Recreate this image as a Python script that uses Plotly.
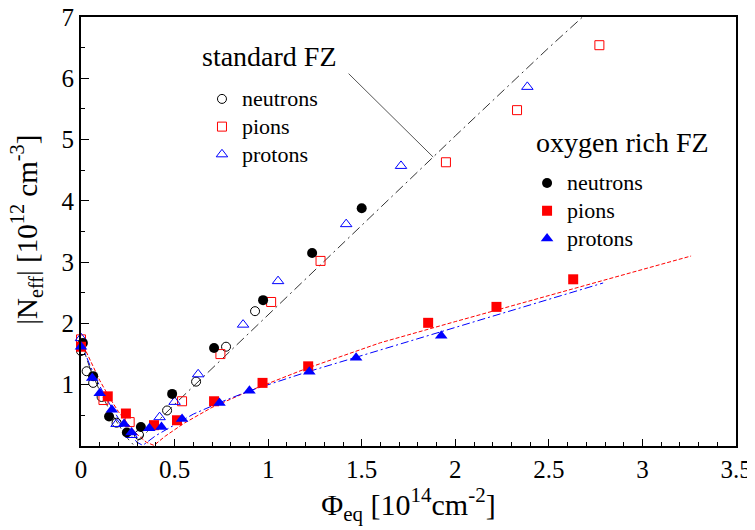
import plotly.graph_objects as go

# ---------------- data ----------------
# standard FZ (open symbols)
std_neutrons_x = [0.0, 0.03, 0.065, 0.11, 0.19, 0.31, 0.46, 0.615, 0.775, 0.93]
std_neutrons_y = [1.55, 1.22, 1.03, 0.80, 0.38, 0.18, 0.58, 1.05, 1.62, 2.20]

std_pions_x = [0.0, 0.12, 0.26, 0.54, 0.745, 1.016, 1.28, 1.95, 2.33, 2.77]
std_pions_y = [1.74, 0.75, 0.39, 0.73, 1.50, 2.35, 3.02, 4.63, 5.48, 6.54]

std_protons_x = [0.0, 0.19, 0.27, 0.42, 0.50, 0.626, 0.866, 1.053, 1.417, 1.71, 2.385]
std_protons_y = [1.76, 0.36, 0.18, 0.47, 0.72, 1.17, 1.98, 2.69, 3.62, 4.57, 5.86]

# oxygen rich FZ (filled symbols)
oxy_neutrons_x = [0.01, 0.065, 0.15, 0.245, 0.32, 0.487, 0.711, 0.973, 1.235, 1.50]
oxy_neutrons_y = [1.68, 1.14, 0.48, 0.22, 0.31, 0.85, 1.60, 2.38, 3.15, 3.88]

oxy_pions_x = [0.0, 0.143, 0.24, 0.39, 0.513, 0.711, 0.97, 1.214, 1.855, 2.22, 2.63]
oxy_pions_y = [1.62, 0.81, 0.53, 0.34, 0.42, 0.73, 1.03, 1.30, 2.01, 2.27, 2.72]

oxy_protons_x = [0.0, 0.06, 0.10, 0.165, 0.23, 0.27, 0.365, 0.43, 0.54, 0.74, 0.90, 1.22, 1.47, 1.925]
oxy_protons_y = [1.62, 1.11, 0.86, 0.59, 0.36, 0.22, 0.29, 0.31, 0.44, 0.70, 0.90, 1.21, 1.44, 1.80]

# fit curves
fit_std_x = [0.0, 0.05, 0.1, 0.15, 0.2, 0.25, 0.28, 0.35, 0.5, 1.0, 1.5, 2.0, 2.5, 2.68]
fit_std_y = [1.70, 1.25, 0.90, 0.60, 0.35, 0.12, 0.02, 0.22, 0.68, 2.14, 3.60, 5.06, 6.50, 7.0]

fit_oxy_pions_x = [0.0, 0.05, 0.1, 0.15, 0.2, 0.25, 0.3, 0.35, 0.39, 0.45, 0.55, 0.7, 0.9, 1.2, 1.6, 2.0, 2.5, 3.0, 3.26]
fit_oxy_pions_y = [1.72, 1.38, 1.07, 0.80, 0.56, 0.36, 0.19, 0.06, 0.01, 0.16, 0.37, 0.63, 0.90, 1.26, 1.685, 2.03, 2.46, 2.88, 3.10]

fit_oxy_protons_x = [0.0, 0.05, 0.1, 0.15, 0.2, 0.25, 0.3, 0.33, 0.4, 0.5, 0.6, 0.75, 0.9, 1.2, 1.6, 2.0, 2.4, 2.79]
fit_oxy_protons_y = [1.68, 1.30, 0.98, 0.70, 0.45, 0.23, 0.06, 0.01, 0.17, 0.35, 0.52, 0.72, 0.90, 1.20, 1.566, 1.93, 2.30, 2.66]

x_ticks = [0, 0.5, 1, 1.5, 2, 2.5, 3, 3.5]
x_tick_labels = ["0", "0.5", "1", "1.5", "2", "2.5", "3", "3.5"]
y_ticks = [1, 2, 3, 4, 5, 6, 7]
y_tick_labels = ["1", "2", "3", "4", "5", "6", "7"]

legend_names = ["neutrons", "pions", "protons"]

# ---------------- figure ----------------
FONT = "Liberation Serif"
RED = "#ff0000"
BLUE = "#0000ff"


def lname(s):
    return '<span style="font-size:22px">' + s + '</span>'


fig = go.Figure()

# fit lines
fig.add_trace(go.Scatter(x=fit_std_x, y=fit_std_y, mode="lines", showlegend=False,
                         line=dict(color="#333333", width=1, dash="10px,4px,2px,4px"),
                         hoverinfo="skip"))
fig.add_trace(go.Scatter(x=fit_oxy_pions_x, y=fit_oxy_pions_y, mode="lines", showlegend=False,
                         line=dict(color=RED, width=1, dash="4px,2px"), hoverinfo="skip"))
fig.add_trace(go.Scatter(x=fit_oxy_protons_x, y=fit_oxy_protons_y, mode="lines", showlegend=False,
                         line=dict(color=BLUE, width=1, dash="8px,3px,2px,3px"), hoverinfo="skip"))

# standard FZ
fig.add_trace(go.Scatter(x=std_neutrons_x, y=std_neutrons_y, mode="markers", name=lname(legend_names[0]),
                         legend="legend", cliponaxis=False,
                         marker=dict(symbol="circle-open", size=9, color="black", line=dict(width=1))))
fig.add_trace(go.Scatter(x=std_pions_x, y=std_pions_y, mode="markers", name=lname(legend_names[1]),
                         legend="legend", cliponaxis=False,
                         marker=dict(symbol="square-open", size=9, color=RED, line=dict(width=1))))
fig.add_trace(go.Scatter(x=std_protons_x, y=std_protons_y, mode="markers", name=lname(legend_names[2]),
                         legend="legend", cliponaxis=False,
                         marker=dict(symbol="triangle-up-open", size=10, color=BLUE, line=dict(width=1))))

# oxygen rich FZ
fig.add_trace(go.Scatter(x=oxy_neutrons_x, y=oxy_neutrons_y, mode="markers", name=lname(legend_names[0]),
                         legend="legend2", cliponaxis=False,
                         marker=dict(symbol="circle", size=10, color="black", line=dict(width=0))))
fig.add_trace(go.Scatter(x=oxy_pions_x, y=oxy_pions_y, mode="markers", name=lname(legend_names[1]),
                         legend="legend2", cliponaxis=False,
                         marker=dict(symbol="square", size=10, color=RED, line=dict(width=0))))
fig.add_trace(go.Scatter(x=oxy_protons_x, y=oxy_protons_y, mode="markers", name=lname(legend_names[2]),
                         legend="legend2", cliponaxis=False,
                         marker=dict(symbol="triangle-up", size=11, color=BLUE, line=dict(width=0))))

legend_common = dict(font=dict(family=FONT, size=19, color="black"), bgcolor="rgba(0,0,0,0)",
                     borderwidth=0, xanchor="left", yanchor="top", traceorder="normal")

fig.update_layout(
    width=747, height=522,
    margin=dict(l=73, r=19, t=9, b=84),
    paper_bgcolor="white", plot_bgcolor="white",
    font=dict(family=FONT, color="black"),
    legend=dict(x=0.1847, y=0.853, **legend_common),
    legend2=dict(x=0.681, y=0.657, **legend_common),
    xaxis=dict(
        range=[0, 3.5], tickvals=x_ticks, ticktext=x_tick_labels,
        ticks="inside", ticklen=7, tickwidth=1.2, tickcolor="black",
        minor=dict(dtick=0.1, ticks="inside", ticklen=4, tickwidth=1, tickcolor="black", showgrid=False),
        showline=True, linewidth=2, linecolor="black", mirror=True,
        showgrid=False, zeroline=False, automargin=False, ticklabeloverflow="allow",
        tickfont=dict(family=FONT, size=25, color="black"),
        title=dict(text="Φ<sub>eq</sub> [10<sup>14</sup>cm<sup>-2</sup>]",
                   font=dict(family=FONT, size=30, color="black"), standoff=6),
    ),
    yaxis=dict(
        range=[0, 7], tickvals=y_ticks, ticktext=y_tick_labels,
        ticks="inside", ticklen=8, tickwidth=1.2, tickcolor="black",
        minor=dict(dtick=0.5, ticks="inside", ticklen=4, tickwidth=1, tickcolor="black", showgrid=False),
        showline=True, linewidth=2, linecolor="black", mirror=True,
        showgrid=False, zeroline=False, automargin=False, ticklabeloverflow="allow",
        tickfont=dict(family=FONT, size=25, color="black"),
    ),
    annotations=[
        dict(text="|N<sub>eff</sub>| [10<sup>12</sup> cm<sup>-3</sup>]", xref="paper", yref="paper",
             x=-0.083, y=0.503, xanchor="center", yanchor="middle", textangle=-90, showarrow=False,
             font=dict(family=FONT, size=29, color="black")),
        dict(text="standard FZ", xref="paper", yref="paper", x=0.1817, y=0.907,
             xanchor="left", yanchor="middle", showarrow=False,
             font=dict(family=FONT, size=28, color="black")),
        dict(text="oxygen rich FZ", xref="paper", yref="paper", x=0.6916, y=0.7086,
             xanchor="left", yanchor="middle", showarrow=False,
             font=dict(family=FONT, size=28, color="black")),
        dict(text="", x=1.882, y=4.714, ax=1.422, ay=6.10, xref="x", yref="y",
             axref="x", ayref="y", showarrow=True, arrowhead=0, arrowwidth=1,
             arrowcolor="#555555", standoff=0, startstandoff=0),
    ],
)

fig.write_html("out.html")
